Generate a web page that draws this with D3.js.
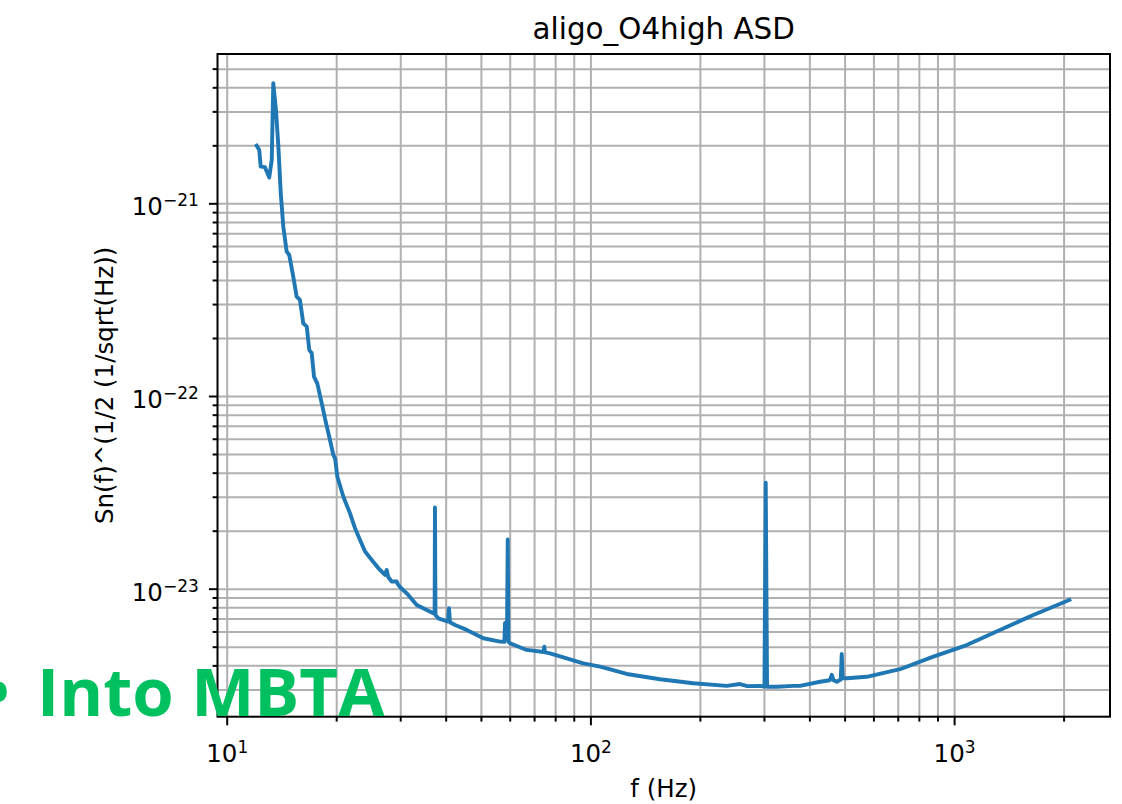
<!DOCTYPE html>
<html>
<head>
<meta charset="utf-8">
<script src="https://cdn.jsdelivr.net/npm/d3@7"></script>
<style>
	html, body { margin: 0; padding: 0; background: #fff; }
	svg { display: block; }
	.grid line { stroke: #b0b0b0; stroke-width: 2; }
	.grid path { display: none; }
	.axis path { display: none; }
	.axis line { stroke: #000; stroke-width: 2; }
	.axis .minor line { stroke-width: 1.5; }
	.axis text { font-family: "DejaVu Sans", sans-serif; font-size: 24.5px; fill: #000; }
</style>
</head>
<body>
<svg width="1122" height="804"></svg>
<script>
// aligo_O4high ASD, values
var freqHz = [
	12.09, 12.29, 12.40, 12.74, 13.09, 13.30, 13.43, 13.66, 13.87, 14.08,
	14.31, 14.62, 14.86, 15.24, 15.57, 15.90, 16.24, 16.60, 16.87, 17.13,
	17.38, 17.75, 18.25, 18.70, 19.23, 19.64, 19.86, 20.15, 20.93, 21.83,
	22.53, 23.26, 24.01, 25.05, 26.11, 27.24, 27.54, 27.80, 28.42, 29.34,
	29.60, 29.96, 31.57, 33.30, 35.48, 36.99, 37.30, 37.38, 37.50, 38.17,
	40.60, 40.85, 41.10, 42.44, 45.72, 50.78, 56.43, 58.00, 58.25, 59.00,
	59.25, 59.50, 60.12, 66.81, 74.40, 74.68, 75.00, 77.43, 86.07, 95.61,
	106.3, 125.9, 155.4, 191.8, 237.1, 257.8, 270.0, 292.7, 301.0, 303.4,
	306.0, 325.3, 361.4, 377.0, 427.9, 455.0, 460.9, 466.0, 475.6, 488.0,
	490.9, 494.0, 506.8, 575.2, 710.0, 876.9, 1083, 1337, 1651, 2074
];
var asd = [
	1.99e-21, 1.89e-21, 1.55e-21, 1.54e-21, 1.36e-21, 1.68e-21, 4.20e-21, 3.05e-21, 1.97e-21, 1.13e-21,
	7.56e-22, 5.61e-22, 5.39e-22, 4.16e-22, 3.28e-22, 3.15e-22, 2.38e-22, 2.29e-22, 1.73e-22, 1.67e-22,
	1.26e-22, 1.16e-22, 9.17e-23, 7.40e-23, 5.91e-23, 4.94e-23, 4.75e-23, 3.81e-23, 3.00e-23, 2.46e-23,
	2.06e-23, 1.79e-23, 1.56e-23, 1.41e-23, 1.28e-23, 1.18e-23, 1.25e-23, 1.15e-23, 1.09e-23, 1.09e-23,
	1.05e-23, 1.02e-23, 9.28e-24, 8.23e-24, 7.75e-24, 7.46e-24, 7.40e-24, 2.64e-23, 7.30e-24, 7.02e-24,
	6.75e-24, 7.91e-24, 6.70e-24, 6.48e-24, 6.11e-24, 5.53e-24, 5.31e-24, 5.30e-24, 6.64e-24, 6.50e-24,
	1.80e-23, 5.30e-24, 5.21e-24, 4.81e-24, 4.69e-24, 5.00e-24, 4.68e-24, 4.62e-24, 4.35e-24, 4.10e-24,
	3.94e-24, 3.61e-24, 3.39e-24, 3.23e-24, 3.13e-24, 3.20e-24, 3.12e-24, 3.13e-24, 3.10e-24, 3.55e-23,
	3.10e-24, 3.10e-24, 3.13e-24, 3.13e-24, 3.29e-24, 3.35e-24, 3.57e-24, 3.35e-24, 3.29e-24, 3.38e-24,
	4.58e-24, 3.43e-24, 3.43e-24, 3.49e-24, 3.82e-24, 4.44e-24, 5.10e-24, 6.11e-24, 7.30e-24, 8.74e-24
];

// axis limits and tick labels
var xLimits = [9.434, 2683];
var yLimits = [2.166e-24, 5.955e-21];
var xMajor = [10, 100, 1000];
var xMajorExp = ["1", "2", "3"];
var yMajor = [1e-21, 1e-22, 1e-23];
var yMajorExp = ["\u221221", "\u221222", "\u221223"];

var titleText = "aligo_O4high ASD";
var xLabelText = "f (Hz)";
var yLabelText = "Sn(f)^(1/2 (1/sqrt(Hz))";
var overlayText = "Into MBTA";

(function(){

	var svg = d3.select("svg"),
		margin = {top: 54, left: 217.5},
		width = 892.5,
		height = 662.7,
		majorLen = 8.6,
		minorLen = 4.9,
		pad = 8.6;

	var g = svg.append("g")
		.attr("transform", "translate(" + margin.left + "," + margin.top + ")");

	var x = d3.scaleLog().domain(xLimits).range([0, width]),
		y = d3.scaleLog().domain(yLimits).range([height, 0]);

	// minor tick positions 2..9 in each decade inside the limits
	function minors(lim){
		var out = [];
		var lo = Math.floor(Math.log10(lim[0])), hi = Math.ceil(Math.log10(lim[1]));
		for (var e = lo; e < hi; e++){
			for (var k = 2; k <= 9; k++){
				var v = k * Math.pow(10, e);
				if (v >= lim[0] && v <= lim[1]) out.push(v);
			}
		}
		return out;
	}
	var xMinor = minors(xLimits),
		yMinor = minors(yLimits);

	// grid, both major and minor
	g.append("g").attr("class", "grid")
		.attr("transform", "translate(0," + height + ")")
		.call(d3.axisBottom(x).tickValues(xMajor.concat(xMinor)).tickSize(-height).tickFormat(""));
	g.append("g").attr("class", "grid")
		.call(d3.axisLeft(y).tickValues(yMajor.concat(yMinor)).tickSize(-width).tickFormat(""));

	// the curve
	var pts = freqHz.map(function(f, i){ return [f, asd[i]]; });
	var line = d3.line()
		.x(function(d){ return x(d[0]); })
		.y(function(d){ return y(d[1]); });
	g.append("path")
		.datum(pts)
		.attr("d", line)
		.attr("fill", "none")
		.attr("stroke", "#1f77b4")
		.attr("stroke-width", 3.9)
		.attr("stroke-linejoin", "round")
		.attr("stroke-linecap", "square");

	// x axis
	g.append("g").attr("class", "axis minor")
		.attr("transform", "translate(0," + height + ")")
		.call(d3.axisBottom(x).tickValues(xMinor).tickSize(minorLen).tickFormat(""));
	var gx = g.append("g").attr("class", "axis")
		.attr("transform", "translate(0," + height + ")")
		.call(d3.axisBottom(x).tickValues(xMajor).tickSize(majorLen).tickPadding(pad)
			.tickFormat(function(){ return "10"; }));
	gx.selectAll(".tick text")
		.attr("dy", null)
		.attr("y", 45)
		.append("tspan")
			.attr("dy", -9)
			.style("font-size", "17px")
			.text(function(d, i){ return xMajorExp[i]; });

	// y axis
	g.append("g").attr("class", "axis minor")
		.call(d3.axisLeft(y).tickValues(yMinor).tickSize(minorLen).tickFormat(""));
	var gy = g.append("g").attr("class", "axis")
		.call(d3.axisLeft(y).tickValues(yMajor).tickSize(majorLen).tickPadding(pad)
			.tickFormat(function(){ return "10"; }));
	gy.selectAll(".tick text")
		.attr("dy", null)
		.attr("y", 11.5)
		.attr("x", -(majorLen + pad + 1.5))
		.append("tspan")
			.attr("dy", -9)
			.style("font-size", "17px")
			.text(function(d, i){ return yMajorExp[i]; });

	// spines
	g.append("rect")
		.attr("width", width)
		.attr("height", height)
		.attr("fill", "none")
		.attr("stroke", "#000")
		.attr("stroke-width", 2);

	// title and labels
	svg.append("text")
		.text(titleText)
		.attr("x", margin.left + width / 2)
		.attr("y", 39)
		.attr("text-anchor", "middle")
		.style("font-family", "DejaVu Sans, sans-serif")
		.style("font-size", "29.4px")
		.style("fill", "#000");

	svg.append("text")
		.text(xLabelText)
		.attr("x", margin.left + width / 2)
		.attr("y", 797)
		.attr("text-anchor", "middle")
		.style("font-family", "DejaVu Sans, sans-serif")
		.style("font-size", "24.5px")
		.style("fill", "#000");

	svg.append("text")
		.text(yLabelText)
		.attr("transform", "translate(113," + (margin.top + height / 2) + ") rotate(-90)")
		.attr("text-anchor", "middle")
		.style("font-family", "DejaVu Sans, sans-serif")
		.style("font-size", "24.5px")
		.style("fill", "#000");

	// green overlay caption (its bullet is cut by the left edge in the reference too)
	svg.append("text")
		.text("\u2022")
		.attr("x", 10)
		.attr("y", 716)
		.attr("text-anchor", "end")
		.style("font-family", "Open Sans, sans-serif")
		.style("font-weight", 700)
		.style("font-size", "67px")
		.style("fill", "#00c060");
	svg.append("text")
		.text(overlayText)
		.attr("x", 37)
		.attr("y", 716)
		.style("font-family", "Open Sans, sans-serif")
		.style("font-weight", 700)
		.style("font-size", "67px")
		.style("fill", "#00c060");

})();
</script>
</body>
</html>
